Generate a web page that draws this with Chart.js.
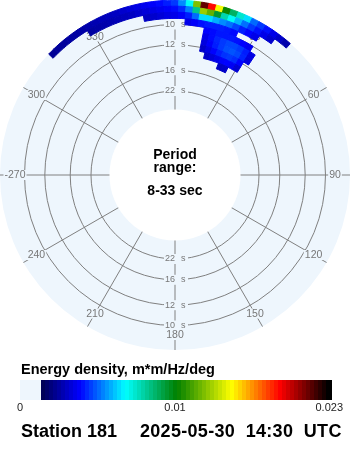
<!DOCTYPE html>
<html lang="en">
<head>
<meta charset="UTF-8">
<title>Station 181 wave energy</title>
<script src="https://cdn.jsdelivr.net/npm/chart.js"></script>
<style>
  body { margin: 0; background: #fff; font-family: "Liberation Sans", Arial, sans-serif; }
  #wrap { position: relative; width: 350px; height: 450px; }
  #box { position: absolute; left: 0; top: 0; width: 350px; height: 450px; }
  .t { position: absolute; white-space: pre; color: #000; }
  .mid { font-weight: bold; font-size: 14px; line-height: 14px; left: 0; width: 350px; text-align: center; }
  .cb { font-size: 11px; line-height: 11px; top: 402px; color: #222; }
  .foot { top: 422px; font-weight: bold; font-size: 18px; line-height: 18px; }
</style>
</head>
<body>
<div id="wrap">
  <div id="box"><canvas id="spec"></canvas></div>
  <div class="t mid" style="top:147px">Period</div>
  <div class="t mid" style="top:160px">range:</div>
  <div class="t mid" style="top:183px">8-33 sec</div>
  <div class="t" style="left:21px;top:362px;font-weight:bold;font-size:14.5px;line-height:15px">Energy density, m*m/Hz/deg</div>
  <div class="t cb" style="left:17px">0</div>
  <div class="t cb" style="left:150px;width:50px;text-align:center">0.01</div>
  <div class="t cb" style="right:7px">0.023</div>
  <div class="t foot" style="left:21px">Station 181</div>
  <div class="t foot" style="left:140px;letter-spacing:0.3px">2025-05-30  14:30  UTC</div>
</div>
<script>
// compass directions on the spokes (every 30 deg, clockwise from north)
const dirLabels = ['0', '30', '60', '90', '120', '150', '180', '210', '240', '-270', '300', '330'];
// period rings (seconds) and the plotted period range
const periodTicks = [22, 16, 12, 10];
const periodMin = 8, periodMax = 33;
const energyMax = 0.023;

// energy cells: one row per frequency bin (lower edge, Hz, 0.005 wide),
// each row runs clockwise in 2.5 deg steps from its start direction
const rowFreqs = [0.115, 0.110, 0.105, 0.100, 0.095, 0.090, 0.085, 0.080, 0.075, 0.070];
const rowStartDir = [315, 330, 350, 5, 12.5, 12.5, 12.5, 12.5, 15, 22.5];
const energyRows = [
  [.0011, .0012, .0012, .0013, .0013, .0014, .0015, .0016, .0017, .0018, .0019, .0021, .0023, .0025, .0027, .0029, .0031, .0034,
   .0038, .0050, .0068, .0130, .0215, .0190, .0150, .0110, .0092, .0075, .0062, .0045, .0038, .0032, .0026, .0020, .0015],
  [.0013, .0014, .0015, .0016, .0017, .0018, .0019, .0021, .0023, .0025, .0027, .0029,
   .0031, .0036, .0048, .0085, .0135, .0125, .0100, .0080, .0068, .0056, .0046, .0038, .0032, .0026, .0021],
  [.0019, .0021, .0023, .0025, .0026, .0029, .0034, .0045, .0062, .0062, .0055, .0050, .0046, .0040, .0034, .0030, .0026],
  [.0026, .0029, .0032, .0034, .0034, .0034, .0033, .0031],
  [.0030, .0031, .0033, .0033, .0033, .0032, .0030, .0027],
  [.0026, .0031, .0035, .0038, .0040, .0040, .0038, .0034, .0025],
  [.0024, .0029, .0034, .0038, .0041, .0042, .0040, .0035, .0024],
  [.0020, .0025, .0030, .0034, .0037, .0038, .0036, .0030],
  [.0020, .0023, .0026, .0029, .0030, .0028, .0022],
  [.0019, .0020]
];
const dirStep = 2.5, freqStep = 0.005;

const BG = '#eef6fd';
const GRID = '#808080';

// colour ramp of the legend
const stops = [
  [0, [0, 0, 88]], [0.13, [0, 0, 255]], [0.29, [0, 255, 255]], [0.47, [0, 128, 0]],
  [0.66, [255, 255, 0]], [0.83, [255, 0, 0]], [1, [0, 0, 0]]
];
function ramp(t) {
  t = Math.max(0, Math.min(1, t));
  for (let i = 1; i < stops.length; i++) {
    if (t <= stops[i][0]) {
      const a = stops[i - 1], b = stops[i];
      const k = (t - a[0]) / (b[0] - a[0]);
      const c = a[1].map((v, j) => Math.round(v + (b[1][j] - v) * k));
      return 'rgb(' + c.join(',') + ')';
    }
  }
  return 'rgb(0,0,0)';
}

function rad(deg) { return (deg - 90) * Math.PI / 180; }

const polarDecor = {
  id: 'polarDecor',
  afterDatasetsDraw(chart) {
    const s = chart.scales.r;
    const ctx = chart.ctx;
    const cx = s.xCenter, cy = s.yCenter;
    ctx.save();
    // empty centre (periods longer than 33 s)
    ctx.fillStyle = '#fff';
    ctx.beginPath();
    ctx.arc(cx, cy, s.getDistanceFromCenterForValue(1 / periodMax), 0, Math.PI * 2);
    ctx.fill();

    // period labels at top and bottom of each ring
    ctx.font = '9px "Liberation Sans", Arial';
    ctx.textBaseline = 'middle';
    periodTicks.forEach(p => {
      const d = s.getDistanceFromCenterForValue(1 / p);
      [cy - d, cy + d].forEach(y => {
        ctx.fillStyle = BG;
        ctx.fillRect(cx - 11, y - 5, 24, 10);
        ctx.fillStyle = '#777';
        ctx.textAlign = 'right';
        ctx.fillText(String(p), cx, y);
        ctx.textAlign = 'left';
        ctx.fillText('s', cx + 6, y);
      });
    });

    // direction labels just inside the edge
    ctx.font = '10.5px "Liberation Sans", Arial';
    ctx.textAlign = 'center';
    const lr = s.getDistanceFromCenterForValue(s.max) - 15;
    dirLabels.forEach((lab, i) => {
      const p = s.getPointPosition(i, lr);
      const w = ctx.measureText(lab).width;
      ctx.fillStyle = BG;
      ctx.fillRect(p.x - w / 2 - 1, p.y - 5, w + 2, 10);
      ctx.fillStyle = '#777';
      ctx.fillText(lab, p.x, p.y + 0.5);
    });

    // energy cells
    ctx.lineWidth = 1;
    energyRows.forEach((row, fi) => {
      const r0 = s.getDistanceFromCenterForValue(rowFreqs[fi]);
      const r1 = s.getDistanceFromCenterForValue(rowFreqs[fi] + freqStep);
      row.forEach((v, k) => {
        if (!v) return;
        const dir = rowStartDir[fi] + k * dirStep;
        const a0 = rad(dir - dirStep / 2), a1 = rad(dir + dirStep / 2);
        ctx.beginPath();
        ctx.arc(cx, cy, r1, a0, a1);
        ctx.arc(cx, cy, r0, a1, a0, true);
        ctx.closePath();
        ctx.fillStyle = ramp(v / energyMax);
        ctx.strokeStyle = ctx.fillStyle;
        ctx.fill();
        ctx.stroke();
      });
    });
    ctx.restore();
  },
  afterDraw(chart) {
    // legend bar
    const ctx = chart.ctx;
    ctx.save();
    ctx.fillStyle = BG;
    ctx.fillRect(20, 380, 21, 20);
    const x0 = 41, w = 290, bands = 72;
    for (let i = 0; i < bands; i++) {
      ctx.fillStyle = ramp(i / (bands - 1));
      const xa = x0 + w * i / bands;
      ctx.fillRect(Math.floor(xa), 380, Math.ceil(w / bands) + 1, 20);
    }
    ctx.restore();
  }
};

const ctx = document.getElementById('spec').getContext('2d');
const chart = new Chart(ctx, {
  type: 'radar',
  data: { labels: dirLabels, datasets: [] },
  options: {
    responsive: true,
    maintainAspectRatio: false,
    animation: false,
    layout: { padding: { bottom: 100 } },
    plugins: { legend: { display: false }, tooltip: { enabled: false } },
    scales: {
      r: {
        // radius is linear in frequency (1/period)
        min: -0.02346,
        max: 0.1201,
        startAngle: 0,
        backgroundColor: BG,
        afterBuildTicks: axis => { axis.ticks = periodTicks.map(p => ({ value: 1 / p })); },
        ticks: { display: false },
        grid: { circular: true, color: GRID, lineWidth: 1 },
        angleLines: { color: GRID, lineWidth: 1 },
        pointLabels: { display: false }
      }
    }
  },
  plugins: [polarDecor]
});
</script>
</body>
</html>
